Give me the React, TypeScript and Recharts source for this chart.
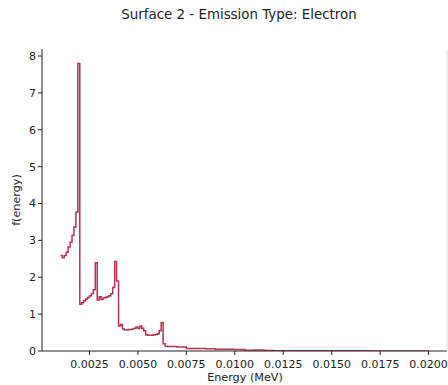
import React from "react";
import { LineChart, Line, XAxis, YAxis } from "recharts";

// fine bins (0.0001 MeV wide) covering the low-energy peaks
const fineEnergy = [
    0.001, 0.0011, 0.0012, 0.0013, 0.0014, 0.0015, 0.0016, 0.0017, 0.0018, 0.0019,
    0.002, 0.0021, 0.0022, 0.0023, 0.0024, 0.0025, 0.0026, 0.0027, 0.0028, 0.0029,
    0.003, 0.0031, 0.0032, 0.0033, 0.0034, 0.0035, 0.0036, 0.0037, 0.0038, 0.0039,
    0.004, 0.0041, 0.0042, 0.0043, 0.0044, 0.0045, 0.0046, 0.0047, 0.0048, 0.0049,
    0.005, 0.0051, 0.0052, 0.0053, 0.0054, 0.0055, 0.0056, 0.0057, 0.0058, 0.0059,
    0.006, 0.0061, 0.0062, 0.0063, 0.0064,
];
const fineF = [
    2.59, 2.53, 2.59, 2.68, 2.82, 2.95, 3.14, 3.36, 3.76, 7.8,
    1.27, 1.31, 1.36, 1.41, 1.45, 1.5, 1.56, 1.66, 2.39, 1.38,
    1.47, 1.4, 1.44, 1.45, 1.47, 1.5, 1.55, 1.72, 2.43, 1.9,
    0.68, 0.72, 0.6, 0.57, 0.57, 0.58, 0.58, 0.6, 0.62, 0.65,
    0.61, 0.68, 0.62, 0.55, 0.44, 0.43, 0.43, 0.43, 0.44, 0.45,
    0.47, 0.55, 0.77, 0.2, 0.13,
];

// coarser tail bins
const tailEnergy = [
    0.0065, 0.007, 0.0075, 0.008, 0.0085, 0.009, 0.0095, 0.01, 0.0105, 0.011,
    0.0115, 0.012, 0.0125, 0.013, 0.0135, 0.014, 0.0145, 0.015, 0.0155, 0.016,
    0.0165, 0.017, 0.0175, 0.018, 0.0185, 0.019, 0.0195, 0.02,
];
const tailF = [
    0.12, 0.11, 0.07, 0.07, 0.06, 0.045, 0.05, 0.04, 0.02, 0.025,
    0.012, 0.01, 0.008, 0.007, 0.006, 0.006, 0.005, 0.005, 0.004, 0.004,
    0.004, 0.003, 0.003, 0.003, 0.003, 0.002, 0.002, 0.002,
];

const xTicks = [0.0025, 0.005, 0.0075, 0.01, 0.0125, 0.015, 0.0175, 0.02];
const yTicks = [0, 1, 2, 3, 4, 5, 6, 7, 8];

const data = [
    ...fineEnergy.map((e, i) => ({ energy: e, f: fineF[i] })),
    ...tailEnergy.map((e, i) => ({ energy: e, f: tailF[i] })),
];

const FONT = "'DejaVu Sans', sans-serif";
const INK = "#222";
const TICK_SIZE = 11;
const tickStyle = { fontSize: TICK_SIZE, fill: INK, fontFamily: FONT };

// x tick label, pushed down a bit like matplotlib's tick padding
const EnergyTick = (props: any) => {
    const { x, y, payload } = props;
    return (
        <text x={x} y={y + 11} textAnchor="middle" fontSize={TICK_SIZE} fill={INK} fontFamily={FONT}>
            {Number(payload.value).toFixed(4)}
        </text>
    );
};

const App: React.FC = () => (
    <div style={{ position: "absolute", left: 0, top: 0, width: 448, height: 385, background: "#fff", fontFamily: FONT }}>
        <div style={{ position: "absolute", left: 0, width: 478, top: 7, textAlign: "center", fontSize: 13.4, color: INK }}>
            Surface 2 - Emission Type: Electron
        </div>
        <LineChart width={448} height={385} data={data} margin={{ top: 49, right: 0, left: 0, bottom: 0 }}>
            <XAxis
                dataKey="energy"
                type="number"
                domain={[0.00005, 0.02095]}
                ticks={xTicks}
                interval={0}
                allowDataOverflow
                tick={<EnergyTick />}
                tickSize={4}
                tickLine={{ stroke: INK }}
                axisLine={{ stroke: INK }}
                height={34}
            />
            <XAxis xAxisId="top" orientation="top" dataKey="energy" type="number" domain={[0.00005, 0.02095]} tick={false} tickLine={false} height={0} axisLine={{ stroke: INK }} />
            <YAxis
                type="number"
                domain={[0, 8.19]}
                ticks={yTicks}
                interval={0}
                allowDataOverflow
                tick={tickStyle}
                tickSize={4}
                tickLine={{ stroke: INK }}
                axisLine={{ stroke: INK }}
                width={42}
            />
            <YAxis yAxisId="right" orientation="right" domain={[0, 8.19]} tick={false} tickLine={false} width={1} axisLine={{ stroke: "#ddd" }} />
            <Line
                type="stepAfter"
                dataKey="f"
                stroke="#b8324f"
                strokeWidth={1.5}
                dot={false}
                isAnimationActive={false}
            />
        </LineChart>
        <div style={{ position: "absolute", left: 0, width: 490, top: 371, textAlign: "center", fontSize: 11.2, color: INK }}>
            Energy (MeV)
        </div>
        <div
            style={{
                position: "absolute",
                left: 16,
                top: 200,
                fontSize: 11.2,
                color: INK,
                whiteSpace: "nowrap",
                transform: "translate(-50%, -50%) rotate(-90deg)",
            }}
        >
            f(energy)
        </div>
    </div>
);

export default App;
